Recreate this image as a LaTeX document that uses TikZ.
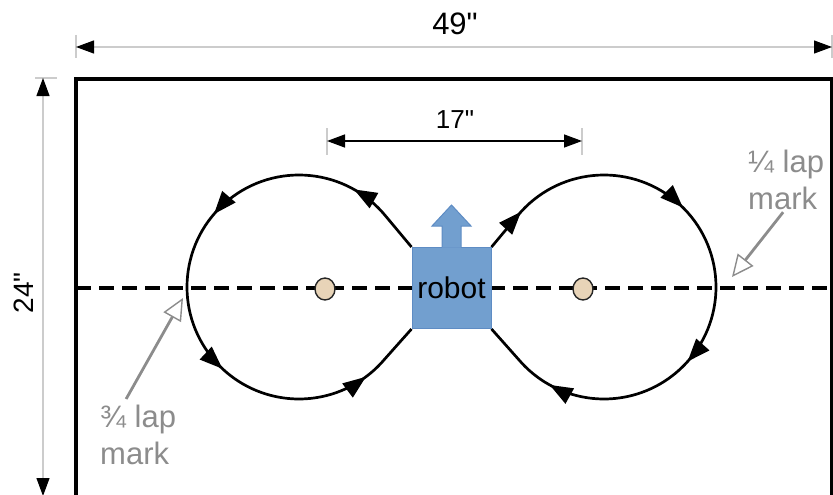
\documentclass[tikz,border=0pt]{standalone}
\usepackage{fontspec}
\setmainfont{Liberation Sans}[Ligatures=TeXOff]
\usetikzlibrary{arrows.meta,decorations.markings,calc,shapes.geometric}
\definecolor{robotblue}{HTML}{729FCF}
\definecolor{robotedge}{HTML}{5E8CC4}
\definecolor{pivotfill}{HTML}{E8D4B8}
\definecolor{dimline}{HTML}{CCCCCC}
\definecolor{markgray}{HTML}{8C8C8C}
\newcommand{\inch}{\symbol{34}}
\tikzset{
  flow/.tip={Triangle[length=23pt,width=17pt]},
  dimtip/.tip={Triangle[length=18pt,width=13pt,color=black]},
  looppath/.style={line width=2.7pt,black,postaction={decorate}},
  dimthin/.style={line width=1.1pt,dimline},
  dimtick/.style={line width=1.1pt,dimline},
  pivotnode/.style={ellipse,draw=black!85,line width=1.4pt,fill=pivotfill,minimum width=20pt,minimum height=22pt,inner sep=0pt},
  robotnode/.style={rectangle,draw=robotedge,line width=1pt,fill=robotblue,minimum width=79pt,minimum height=81pt,inner sep=0pt,font=\fontsize{30}{30}\selectfont},
  lapnote/.style={align=left,inner sep=0pt,text=markgray,font=\fontsize{31}{37}\selectfont},
  lapline/.style={line width=2.8pt,markgray,-{Triangle[length=22pt,width=20pt,fill=white,line width=1.4pt]}},
  dimlabel/.style={inner sep=0pt}
}
\begin{document}
\begin{tikzpicture}[x=1pt,y=-1pt]
\useasboundingbox (0,0) rectangle (833,495);
% table
\draw[line width=4pt] (75.5,79.5) rectangle (831.5,520);
% 49" dimension
\coordinate (w1) at (76,47);
\coordinate (w2) at (832,47);
\draw[dimtick] (76,35) -- (76,58);
\draw[dimtick] (832,35) -- (832,58);
\draw[dimthin,dimtip-dimtip] (w1) -- (w2);
\node[dimlabel,font=\fontsize{31}{31}\selectfont] (wl) at (455,24) {49\inch};
% 24" dimension
\coordinate (h1) at (43,78);
\coordinate (h2) at (43,496);
\draw[dimtick] (35,78) -- (57,78);
\draw[dimthin,dimtip-dimtip] (h1) -- (h2);
\node[dimlabel,rotate=90,font=\fontsize{28}{28}\selectfont] (hl) at (24,293) {24\inch};
% 17" dimension
\coordinate (s1) at (327,141);
\coordinate (s2) at (582,141);
\draw[dimtick] (327,128) -- (327,155);
\draw[dimtick] (582,128) -- (582,155);
\draw[line width=1.5pt,black,dimtip-dimtip] (s1) -- (s2);
\node[dimlabel,font=\fontsize{26}{26}\selectfont] (sl) at (455,120) {17\inch};
% centre line
\draw[line width=3.4pt,dash pattern=on 15pt off 8pt] (76,288) -- (833,288);
% robot position (for anchors)
\path node[robotnode,draw=none,fill=none] (robotpos) at (451.5,288) {};
\coordinate (rc) at (604,287);
\coordinate (lc) at (299,287);
% right loop
\draw[looppath,decoration={markings,
   mark=at position 46pt with {\arrow{flow}},
   mark=at position 227pt with {\arrow{flow}},
   mark=at position 397pt with {\arrow{flow}},
   mark=at position 548pt with {\arrow{flow}}}]
  (robotpos.north east) -- ($(rc)+(219.4:112)$) arc[start angle=219.4,end angle=499.6,radius=112] -- (robotpos.south east);
% left loop
\draw[looppath,decoration={markings,
   mark=at position 82pt with {\arrow{flow}},
   mark=at position 236pt with {\arrow{flow}},
   mark=at position 407pt with {\arrow{flow}},
   mark=at position 563pt with {\arrow{flow}}}]
  (robotpos.north west) -- ($(lc)+(320.6:112)$) arc[start angle=320.6,end angle=40.4,radius=112] -- (robotpos.south west);
% pivots
\node[pivotnode] (lp) at (325,289) {};
\node[pivotnode] (rp) at (583,289) {};
% robot
\node[robotnode] (robot) at (451.5,288) {robot};
\fill[robotblue] ($(robot.north)+(-9.5,0.6)$) -- ++(0,-21.6) -- ++(-10,0) -- ++(19.5,-21) -- ++(19.5,21) -- ++(-10,0) -- ++(0,21.6) -- cycle;
\draw[robotedge,line width=1pt,line join=miter] ($(robot.north)+(-9.5,0)$) -- ++(0,-21) -- ++(-10,0) -- ++(19.5,-21) -- ++(19.5,21) -- ++(-10,0) -- ++(0,21);
% lap marks
\node[lapnote,anchor=north west] (q1) at (748,150) {¼ lap\\mark};
\node[lapnote,anchor=north west] (q3) at (100,405) {¾ lap\\mark};
\coordinate (q1tip) at (732,277);
\coordinate (q3tip) at (183,298);
\draw[lapline] ($(q1.south)+(-3,2)$) -- (q1tip);
\draw[lapline] ($(q3.north)+(-12,-6)$) -- (q3tip);
\end{tikzpicture}
\end{document}
